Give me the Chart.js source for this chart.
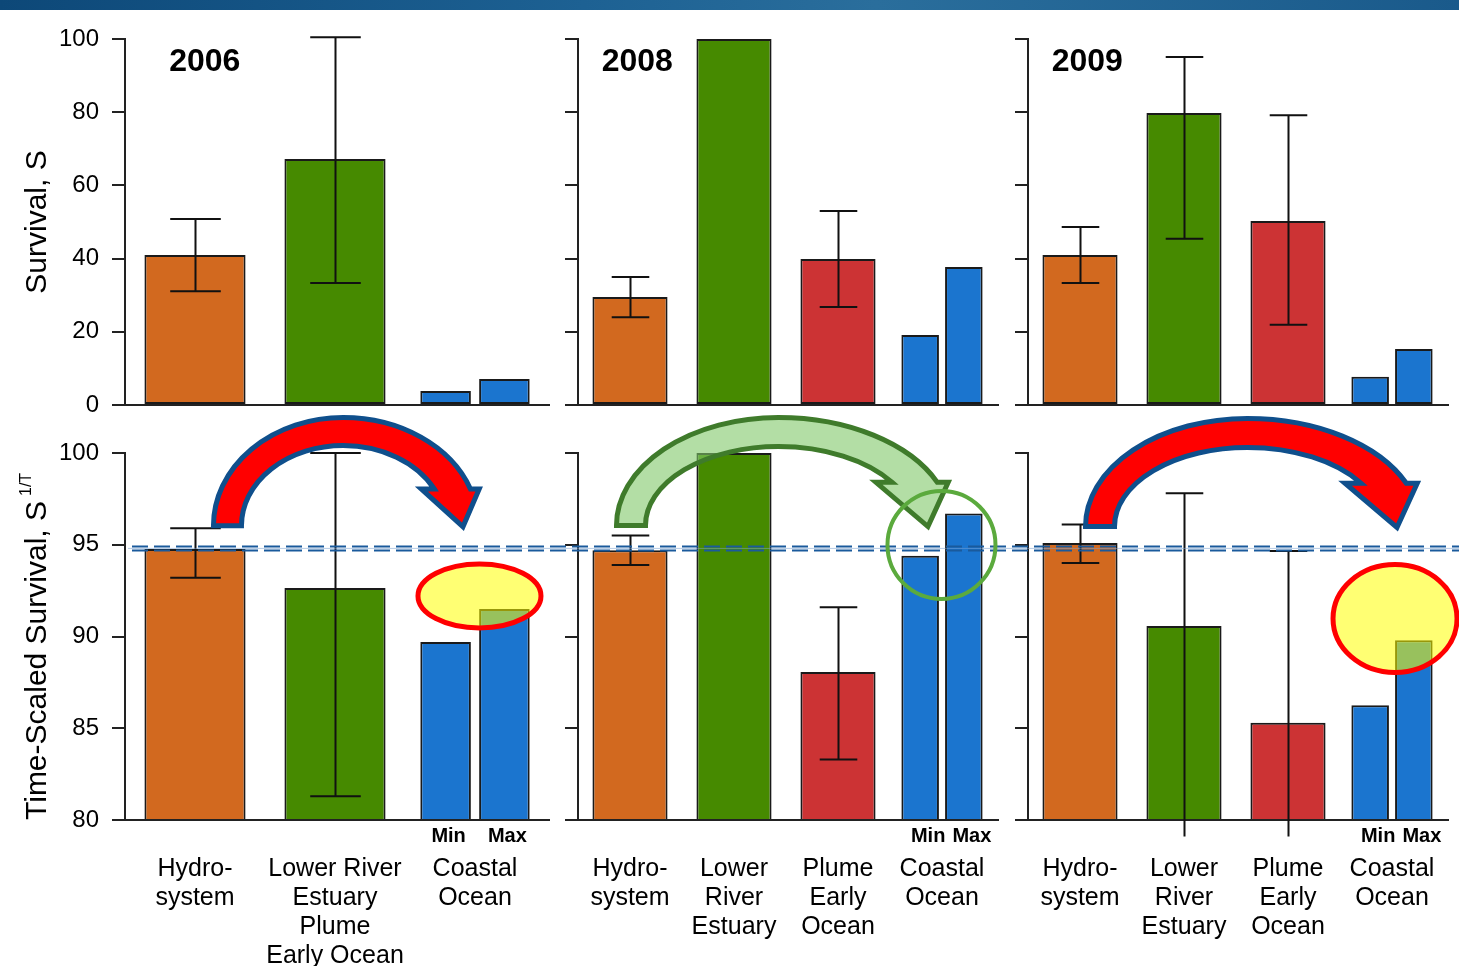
<!DOCTYPE html>
<html>
<head>
<meta charset="utf-8">
<script src="https://cdn.jsdelivr.net/npm/chart.js@4.4.1/dist/chart.umd.min.js"></script>
<style>
  html, body { margin: 0; padding: 0; background: #fff; }
  body { width: 1459px; height: 966px; position: relative; overflow: hidden; }
  #banner { position: absolute; left: 0; top: 0; width: 1459px; height: 10px;
    background: linear-gradient(90deg, #0d4878 0%, #1d6193 40%, #2a6e9c 60%, #1a5a8b 100%); }
  canvas { position: absolute; }
</style>
</head>
<body>
<div id="banner"></div>
<canvas id="s2006"></canvas>
<canvas id="s2008"></canvas>
<canvas id="s2009"></canvas>
<canvas id="t2006"></canvas>
<canvas id="t2008"></canvas>
<canvas id="t2009"></canvas>
<script>
// ---------- categories ----------
const cats2006 = [['Hydro-', 'system'], ['Lower River', 'Estuary', 'Plume', 'Early Ocean'], ['Coastal', 'Ocean']];
const cats2008 = [['Hydro-', 'system'], ['Lower', 'River', 'Estuary'], ['Plume', 'Early', 'Ocean'], ['Coastal', 'Ocean']];
const cats2009 = [['Hydro-', 'system'], ['Lower', 'River', 'Estuary'], ['Plume', 'Early', 'Ocean'], ['Coastal', 'Ocean']];

// ---------- tick values ----------
const ticksSurvival = [0, 20, 40, 60, 80, 100];
const ticksScaled = [80, 85, 90, 95, 100];

// ---------- survival, S (%) ; coastal entry holds the minimum ----------
const s2006 = [41.0, 67.2, 3.8];
const s2006Max = [null, null, 7.1];
const s2006Lo = [31.1, 33.3, null];
const s2006Hi = [50.8, 100.5, null];

const s2008 = [29.5, 100, 39.9, 19.1];
const s2008Max = [null, null, null, 37.7];
const s2008Lo = [24.0, null, 26.8, null];
const s2008Hi = [35.0, null, 53.0, null];

const s2009 = [41.0, 79.8, 50.3, 7.7];
const s2009Max = [null, null, null, 15.3];
const s2009Lo = [33.3, 45.4, 21.9, null];
const s2009Hi = [48.6, 95.1, 79.2, null];

// ---------- time-scaled survival, S^(1/T) (%) ----------
const t2006 = [94.77, 92.64, 89.7];
const t2006Max = [null, null, 91.5];
const t2006Lo = [93.2, 81.3, null];
const t2006Hi = [95.9, 100.0, null];

const t2008 = [94.7, 100, 88.07, 94.4];
const t2008Max = [null, null, null, 96.7];
const t2008Lo = [93.9, null, 83.3, null];
const t2008Hi = [95.5, null, 91.6, null];

const t2009 = [95.1, 90.57, 85.3, 86.25];
const t2009Max = [null, null, null, 89.8];
const t2009Lo = [94.0, 79.1, 79.1, null];
const t2009Hi = [96.1, 97.8, 94.66, null];

// hydrosystem benchmark level on the time-scaled axis
const benchmarkScaled = 94.8;

// ---------- styling ----------
const FONT = "'Liberation Sans', Arial, Helvetica, sans-serif";
const COL = { hydro: '#D2691F', estuary: '#468A00', plume: '#CC3334', coastal: '#1B75CF' };
const colors3 = [COL.hydro, COL.estuary, COL.coastal];
const colors4 = [COL.hydro, COL.estuary, COL.plume, COL.coastal];
const RED_ARROW = { fill: '#FF0000', stroke: '#0F4F8C' };
const GREEN_ARROW = { fill: 'rgba(128,200,105,0.6)', stroke: '#3F7B2B' };
const YELLOW_RING = { fill: 'rgba(255,255,0,0.55)', stroke: '#FF0000', width: 5 };
const GREEN_RING = { fill: null, stroke: '#5BAA3D', width: 4 };

// ---------- panels ----------
const panels = [
  { id: 's2006', left: 0, top: 0, w: 560, h: 425, row: 'top', labels: cats2006,
    values: s2006, maxValues: s2006Max, lo: s2006Lo, hi: s2006Hi, colors: colors3,
    ticks: ticksSurvival, yWidth: 125, padRight: 15, tickLabels: true, title: 'Survival, S', year: '2006' },
  { id: 's2008', left: 560, top: 0, w: 450, h: 425, row: 'top', labels: cats2008,
    values: s2008, maxValues: s2008Max, lo: s2008Lo, hi: s2008Hi, colors: colors4,
    ticks: ticksSurvival, yWidth: 18, padRight: 16, tickLabels: false, year: '2008' },
  { id: 's2009', left: 1010, top: 0, w: 449, h: 425, row: 'top', labels: cats2009,
    values: s2009, maxValues: s2009Max, lo: s2009Lo, hi: s2009Hi, colors: colors4,
    ticks: ticksSurvival, yWidth: 18, padRight: 15, tickLabels: false, year: '2009' },
  { id: 't2006', left: 0, top: 405, w: 560, h: 561, row: 'bottom', labels: cats2006,
    values: t2006, maxValues: t2006Max, lo: t2006Lo, hi: t2006Hi, colors: colors3,
    ticks: ticksScaled, yWidth: 125, padRight: 15, tickLabels: true, first: true,
    sideTitle: 'Time-Scaled Survival, S', sideSup: '1/T', minMaxShift: 3,
    arrow: Object.assign({ from: 0.114, to: 1.914, base: 95.9, peak: 102.07, thick: 33, head: 0.66 }, RED_ARROW),
    ring: Object.assign({ at: 2.032, value: 92.21, rx: 61.5, ry: 32 }, YELLOW_RING) },
  { id: 't2008', left: 560, top: 405, w: 450, h: 561, row: 'bottom', labels: cats2008,
    values: t2008, maxValues: t2008Max, lo: t2008Lo, hi: t2008Hi, colors: colors4,
    ticks: ticksScaled, yWidth: 18, padRight: 16, tickLabels: false, minMaxShift: 8,
    arrow: Object.assign({ from: -0.154, to: 2.865, base: 95.91, peak: 102.07, thick: 34, head: 0.6 }, GREEN_ARROW),
    ring: Object.assign({ at: 2.995, value: 94.99, rx: 54, ry: 54 }, GREEN_RING) },
  { id: 't2009', left: 1010, top: 405, w: 449, h: 561, row: 'bottom', labels: cats2009,
    values: t2009, maxValues: t2009Max, lo: t2009Lo, hi: t2009Hi, colors: colors4,
    ticks: ticksScaled, yWidth: 18, padRight: 15, tickLabels: false, minMaxShift: 8,
    arrow: Object.assign({ from: 0.029, to: 3.048, base: 95.86, peak: 102.02, thick: 34, head: 0.6 }, RED_ARROW),
    ring: Object.assign({ at: 3.029, value: 90.98, rx: 62, ry: 54 }, YELLOW_RING) }
];
const panelById = {};
panels.forEach(p => { panelById[p.id] = p; });

// Thick curved arrow running from a foot on the left to a head on the right
function curvedArrow(ctx, x0v, xTip, ybv, ytv, tv, headFrac, fill, stroke, sw) {
  const x0 = x0v + sw / 2, yb = ybv - sw / 2, yt = ytv + sw / 2, t = tv - sw;
  const W = xTip - x0, H = yb - yt;
  const xT = x0 + 0.52 * W;
  const yh = yt + headFrac * H;
  const xo = x0 + 1.03 * W, xr = x0 + 1.065 * W, xl = x0 + 0.833 * W, xi = x0 + 0.885 * W;
  const dy = yb - yh;
  const sO = dy / H, cO = Math.sqrt(1 - sO * sO);
  const rxOR = (xo - xT) / cO, thO = 2 * Math.PI - Math.asin(sO);
  const ryI = H - t;
  const sI = Math.min(dy / ryI, 0.99), cI = Math.sqrt(1 - sI * sI);
  const rxIR = (xi - xT) / cI, thI = 2 * Math.PI - Math.asin(sI);
  const rxIL = xT - (x0 + t);
  ctx.save();
  ctx.beginPath();
  ctx.moveTo(x0, yb);
  ctx.ellipse(xT, yb, xT - x0, H, 0, Math.PI, 1.5 * Math.PI);
  ctx.ellipse(xT, yb, rxOR, H, 0, 1.5 * Math.PI, thO);
  ctx.lineTo(xr, yh);
  ctx.lineTo(xTip, yb + 1);
  ctx.lineTo(xl, yh);
  ctx.lineTo(xi, yh);
  ctx.ellipse(xT, yb, rxIR, ryI, 0, thI, 1.5 * Math.PI, true);
  ctx.ellipse(xT, yb, rxIL, ryI, 0, 1.5 * Math.PI, Math.PI, true);
  ctx.closePath();
  ctx.fillStyle = fill;
  ctx.fill();
  ctx.lineJoin = 'miter';
  ctx.lineWidth = sw;
  ctx.strokeStyle = stroke;
  ctx.stroke();
  ctx.restore();
}

const decor = {
  id: 'decor',
  afterDatasetsDraw(chart) {
    const p = panelById[chart.canvas.id];
    const { ctx, chartArea: a } = chart;
    const x = chart.scales.x, y = chart.scales.y;

    // x baseline
    ctx.save();
    ctx.strokeStyle = '#222';
    ctx.lineWidth = 2;
    ctx.beginPath();
    ctx.moveTo(a.left - 13, a.bottom);
    ctx.lineTo(a.right + 5, a.bottom);
    ctx.stroke();

    // error bars
    const meta = chart.getDatasetMeta(0);
    ctx.strokeStyle = '#111';
    ctx.lineWidth = 2;
    p.lo.forEach((lo, i) => {
      const hi = p.hi[i];
      if (lo == null || hi == null) return;
      const bar = meta.data[i];
      const bx = Math.round(bar.x) + 0.5;
      const half = bar.width * 0.25;
      const yLo = y.getPixelForValue(lo), yHi = y.getPixelForValue(hi);
      ctx.beginPath();
      ctx.moveTo(bx, yHi); ctx.lineTo(bx, yLo);
      ctx.moveTo(bx - half, yHi); ctx.lineTo(bx + half, yHi);
      if (lo >= y.min) { ctx.moveTo(bx - half, yLo); ctx.lineTo(bx + half, yLo); }
      ctx.stroke();
    });
    ctx.restore();

    if (p.row !== 'bottom') return;

    // benchmark double dashed line
    const yb = y.getPixelForValue(benchmarkScaled);
    const xs = p.first ? a.left + 3 : 0;
    ctx.save();
    ctx.strokeStyle = 'rgba(120,160,210,0.55)';
    ctx.lineWidth = 1;
    ctx.beginPath(); ctx.moveTo(xs, yb); ctx.lineTo(chart.width, yb); ctx.stroke();
    ctx.setLineDash([16, 6]);
    ctx.lineDashOffset = (p.left + xs) % 22;
    ctx.strokeStyle = '#1A5A9C';
    ctx.lineWidth = 2;
    [-2, 2].forEach(d => {
      ctx.beginPath(); ctx.moveTo(xs, yb + d); ctx.lineTo(chart.width, yb + d); ctx.stroke();
    });
    ctx.restore();

    // curved arrow
    const ar = p.arrow;
    curvedArrow(ctx, x.getPixelForValue(ar.from), x.getPixelForValue(ar.to),
      y.getPixelForValue(ar.base), y.getPixelForValue(ar.peak), ar.thick, ar.head,
      ar.fill, ar.stroke, 5);

    // highlight ring
    const r = p.ring;
    ctx.save();
    ctx.beginPath();
    ctx.ellipse(x.getPixelForValue(r.at), y.getPixelForValue(r.value), r.rx, r.ry, 0, 0, 2 * Math.PI);
    if (r.fill) { ctx.fillStyle = r.fill; ctx.fill(); }
    ctx.lineWidth = r.width;
    ctx.strokeStyle = r.stroke;
    ctx.stroke();
    ctx.restore();
  },
  afterDraw(chart) {
    const p = panelById[chart.canvas.id];
    const { ctx, chartArea: a } = chart;
    const x = chart.scales.x, y = chart.scales.y;
    ctx.save();
    ctx.fillStyle = '#000';
    if (p.year) {
      ctx.font = `bold 32px ${FONT}`;
      ctx.textAlign = 'center';
      ctx.textBaseline = 'middle';
      ctx.fillText(p.year, x.getPixelForValue(0.07), y.getPixelForValue(93.8));
    }
    if (p.row === 'bottom') {
      const n = p.values.length - 1;
      const minBar = chart.getDatasetMeta(0).data[n];
      const maxBar = chart.getDatasetMeta(1).data[n];
      ctx.font = `bold 20px ${FONT}`;
      ctx.textAlign = 'center';
      ctx.textBaseline = 'middle';
      ctx.fillText('Min', minBar.x + p.minMaxShift, a.bottom + 16);
      ctx.fillText('Max', maxBar.x + p.minMaxShift, a.bottom + 16);
    }
    if (p.sideTitle) {
      ctx.translate(38, a.bottom);
      ctx.rotate(-Math.PI / 2);
      ctx.textAlign = 'left';
      ctx.textBaseline = 'middle';
      ctx.font = `30px ${FONT}`;
      ctx.fillText(p.sideTitle, 0, 0);
      const w = ctx.measureText(p.sideTitle).width;
      ctx.font = `16px ${FONT}`;
      ctx.fillText(p.sideSup, w + 5, -11);
    }
    ctx.restore();
  }
};

function build(p) {
  const canvas = document.getElementById(p.id);
  canvas.width = p.w; canvas.height = p.h;
  canvas.style.left = p.left + 'px';
  canvas.style.top = p.top + 'px';
  const isTop = p.row === 'top';
  const tk = p.ticks;
  const barStyle = { borderColor: '#1a1a1a', borderWidth: 2, borderSkipped: false, skipNull: true,
    categoryPercentage: 0.84, barPercentage: 0.86 };
  return new Chart(canvas, {
    type: 'bar',
    data: {
      labels: p.labels,
      datasets: [
        Object.assign({ data: p.values, backgroundColor: p.colors }, barStyle),
        Object.assign({ data: p.maxValues, backgroundColor: COL.coastal }, barStyle)
      ]
    },
    options: {
      responsive: false,
      animation: false,
      devicePixelRatio: 1,
      layout: { padding: { left: 0, right: p.padRight, top: isTop ? 39 : 48, bottom: isTop ? 20 : 0 } },
      plugins: { legend: { display: false }, tooltip: { enabled: false } },
      scales: {
        x: {
          display: !isTop,
          grid: { display: false, drawTicks: false },
          border: { display: false },
          ticks: { font: { family: FONT, size: 25, lineHeight: 1.16 }, color: '#000', padding: 35,
            maxRotation: 0, minRotation: 0, autoSkip: false },
          afterFit(s) {
            s.height = isTop ? 0 : 146;
            s.paddingLeft = 0; s.paddingRight = 0;
          }
        },
        y: {
          min: tk[0], max: tk[tk.length - 1],
          afterBuildTicks(s) { s.ticks = tk.map(v => ({ value: v })); },
          grid: { drawOnChartArea: false, drawTicks: true, tickLength: 13, color: '#222', lineWidth: 2 },
          border: { display: true, color: '#222', width: 2 },
          ticks: { font: { family: FONT, size: 24 }, color: p.tickLabels ? '#000' : 'rgba(0,0,0,0)', padding: 13 },
          title: p.title
            ? { display: true, text: p.title, color: '#000', font: { family: FONT, size: 30 }, padding: { top: 20, bottom: 0 } }
            : { display: false },
          afterFit(s) {
            s.width = p.yWidth;
            s.paddingTop = 0; s.paddingBottom = 0;
          }
        }
      }
    },
    plugins: [decor]
  });
}

panels.forEach(build);
</script>
</body>
</html>
